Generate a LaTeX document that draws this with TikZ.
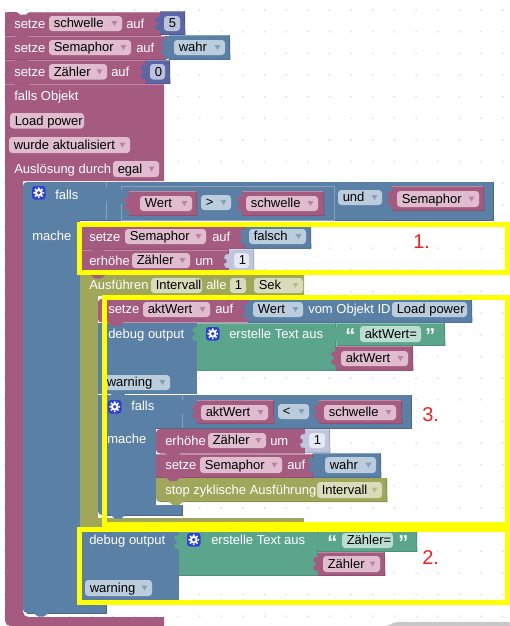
\documentclass[tikz,border=0pt]{standalone}
\usepackage{fontspec}
\setmainfont{Liberation Sans}
\definecolor{cp}{HTML}{A55B80}\definecolor{cb}{HTML}{5B80A5}\definecolor{cg}{HTML}{5BA58C}
\definecolor{co}{HTML}{A0A75B}\definecolor{ci}{HTML}{5B67A5}\definecolor{cl}{HTML}{BFC5DC}
\definecolor{fp}{HTML}{DFBDCE}\definecolor{fb}{HTML}{BBCCDD}\definecolor{fg}{HTML}{BBDDD1}
\definecolor{fo}{HTML}{D9DCBB}\definecolor{fi}{HTML}{BDC2DB}\definecolor{fl}{HTML}{E6E8F2}
\definecolor{gearblue}{HTML}{2C3FD8}\definecolor{griddot}{HTML}{DADADA}
\definecolor{hilite}{HTML}{FFFF00}\definecolor{lab}{HTML}{F02020}
\newcounter{nn}
\tikzset{
  txt/.style={anchor=base west,inner sep=0pt,font=\fontsize{9.75}{11}\selectfont},
  wtx/.style={txt,text=white},
  btx/.style={txt,text=black},
  mk/.style={draw=hilite,line width=3.75pt,miter limit=10},
  numlab/.style={anchor=base west,inner sep=0pt,text=lab,font=\fontsize{15}{17}\selectfont},
}
% block: x1 x2 y1 y2 colour
\newcommand\blk[5]{%
  \fill[#5] (#1,#3) rectangle (#2,#4);
  \draw[#5!72!white,line width=.5pt] (#1,#3+.4) -- (#2,#3+.4);
  \draw[#5!80!black,line width=.5pt] (#1,#4-.4) -- (#2,#4-.4) -- (#2-.4,#3);
}
% statement tab under a block
\newcommand\ntch[3]{\fill[#3] (#1,#2-.5) -- (#1+5,#2+3.5) -- (#1+11,#2+3.5) -- (#1+16,#2-.5) -- cycle;}
% value tab left of a block
\newcommand\vtab[3]{\fill[#3] (#1+1,#2) -- (#1-3.5,#2+.5) -- (#1-5,#2+4) -- (#1-2.5,#2+5.5) -- (#1-2.5,#2+8.5) -- (#1-5,#2+10) -- (#1-3.5,#2+13.5) -- (#1+1,#2+14) -- cycle;}
% white text: x baseline text
\newcommand\wt[3]{\stepcounter{nn}\node[wtx] (n\thenn) at (#1,#2) {#3};}
% field without arrow: x1 x2 y1 y2 letter text
\newcommand\fld[6]{\stepcounter{nn}%
  \fill[f#5,rounded corners=2.4pt] (#1,#3) rectangle (#2,#4);
  \node[btx] (n\thenn) at (#1+4.5,#4-3.2) {#6};}
% field with a drop-down arrow
\newcommand\fldd[6]{\fld{#1}{#2}{#3}{#4}{#5}{#6}%
  \fill[c#5!75!white] (#2-10.5,{(#3+#4)/2-2.5}) -- (#2-4.5,{(#3+#4)/2-2.5}) -- (#2-7.5,{(#3+#4)/2+2.5}) -- cycle;}
% gear button: x y (upper left)
\newcommand\gear[2]{%
  \fill[gearblue,rounded corners=2.2pt] (#1,#2) rectangle (#1+13.5,#2+13.5);
  \foreach \a in {0,45,...,315}{\fill[white] ({#1+6.75+4.6*cos(\a)},{#2+6.75+4.6*sin(\a)}) circle[radius=1.1];}
  \fill[white] (#1+6.75,#2+6.75) circle[radius=3.9];
  \fill[gearblue] (#1+6.75,#2+6.75) circle[radius=1.9];
}
\newcommand\lqm[2]{\stepcounter{nn}\node[wtx,font=\fontsize{15}{15}\bfseries\selectfont] (n\thenn) at (#1,#2) {“};}
\newcommand\rqm[2]{\stepcounter{nn}\node[wtx,font=\fontsize{15}{15}\bfseries\selectfont] (n\thenn) at (#1,#2) {”};}
\begin{document}
\begin{tikzpicture}[x=.75pt,y=-.75pt]
\useasboundingbox (0,0) rectangle (510,626);
\fill[white] (0,0) rectangle (510,626);
% workspace grid
\foreach \i in {0,...,23}{\foreach \j in {0,...,28}{
  \fill[griddot] ({4.8+21.65*\i},{10+21.65*\j}) circle[radius=.9];}}
\fill[black!22,rounded corners=6pt] (383,630) -- (391,622) -- (515,622) -- (515,630) -- cycle;

% ---------- top stack
\blk{5}{161}{12}{35.5}{cp}
\fill[cp,rounded corners=3pt] (5,20) -- (5,12) -- (30,12) -- (30,20) -- cycle;
\fill[white] (16,11) -- (20,14.5) -- (26,14.5) -- (30,11) -- cycle;
\blk{160}{185}{11}{35}{ci}
\vtab{160}{16.5}{ci}
\wt{14}{28}{setze}\fldd{49}{122}{16}{31}{p}{schwelle}\wt{126}{28}{auf}\fld{164}{180}{16}{31}{i}{5}
\blk{5}{166}{35.5}{60}{cp}\ntch{14}{35.5}{cp}
\blk{169}{230}{35}{59.5}{cb}\fill[cb] (165,36) rectangle (170,59);
\vtab{166}{41}{cb}
\wt{14}{52}{setze}\fldd{49}{131}{40}{55}{p}{Semaphor}\wt{136}{52}{auf}\fldd{174}{225}{40}{55}{b}{wahr}
\blk{5}{146}{60}{84.5}{cp}\ntch{14}{60}{cp}
\blk{145.5}{170}{60}{84}{ci}
\vtab{145.5}{65}{ci}
\wt{14}{76}{setze}\fldd{49}{107}{64}{79.5}{p}{Zähler}\wt{111}{76}{auf}\fld{150}{165}{64}{79.5}{i}{0}

% ---------- main event block
\fill[cp] (164,84.5) -- (5,84.5) [rounded corners=4pt] -- (5,626) [sharp corners] -- (164,626) -- (164,617) [rounded corners=4pt] -- (23,617) [sharp corners] -- (23,181) -- (164,181) -- cycle;
\draw[cp!72!white,line width=.5pt] (5,84.8) -- (164,84.8);
\ntch{14}{84.5}{cp}
\wt{14}{100}{falls Objekt}
\fld{10}{84}{113}{128.5}{p}{Load power}
\fldd{9}{130}{137}{153}{p}{wurde aktualisiert}
\wt{14}{173}{Auslösung durch}\fldd{113}{159}{161}{177}{p}{egal}

% ---------- outer if
\fill[cb] (493,182) [rounded corners=3pt] -- (23,182) -- (23,613) [sharp corners] -- (106,613) -- (106,600) -- (80,600) -- (80,220) -- (493,220) -- cycle;
\draw[cb!80!black,line width=.5pt] (493,182) -- (493,220) -- (80,220);
\draw[cb!80!black,line width=.5pt] (27,613) -- (106,613) -- (106,600);
\draw[cb!72!white,line width=.5pt] (106,182) -- (106,220);
\ntch{33}{613}{cb}
\gear{32}{186}
\wt{55}{199}{falls}\wt{32}{240}{mache}
\vtab{106}{187}{cb}
\draw[cb!72!white,line width=.5pt] (121,186) rectangle (334,220);
\vtab{121}{190}{cb}
\blk{129}{197}{191}{216}{cp}\vtab{129}{196.5}{cp}
\fldd{140}{192}{196}{211}{p}{Wert}
\fldd{201}{231}{195}{210}{b}{>}
\blk{242}{324}{191}{216}{cp}\vtab{242}{196.5}{cp}
\fldd{246}{318}{196}{211}{p}{schwelle}
\fldd{338}{382}{190}{205}{b}{und}
\blk{392}{484}{186}{211}{cp}\vtab{392}{191.5}{cp}
\fldd{397}{479}{191}{207}{p}{Semaphor}

% ---------- box 1 content
\blk{82}{245}{225}{249.5}{cp}
\blk{245}{311}{225}{248.5}{cb}\vtab{245}{230}{cb}
\wt{89}{241}{setze}\fldd{125}{206}{229}{244}{p}{Semaphor}\wt{212}{241}{auf}\fldd{249}{306}{229}{244}{b}{falsch}
\blk{82}{229}{249.5}{275}{cp}\ntch{90}{249.5}{cp}
\blk{229}{254}{249}{275}{cl}\vtab{229}{254}{cl}
\wt{89}{265}{erhöhe}\fldd{132}{190}{253}{268}{p}{Zähler}\wt{195}{265}{um}\fld{234}{249}{253}{268}{l}{1}

% ---------- schedule block
\fill[co] (80,275) -- (80,530) -- (304,530) -- (304,518) -- (98,518) -- (98,296) -- (304,296) -- (304,275) -- cycle;
\ntch{90}{275}{cp}
\wt{89}{289}{Ausführen}\fld{151}{202}{278}{293}{o}{Intervall}\wt{206}{289}{alle}\fld{230}{246}{278}{293}{o}{1}\fldd{254}{303}{278}{293}{o}{Sek}

% ---------- box 3 content
\fill[cp] (248,322.5) [rounded corners=2.5pt] -- (98,322.5) -- (98,299) [sharp corners] -- (248,299) -- cycle;
\blk{248}{472}{299}{322.5}{cb}\vtab{248}{304}{cb}
\wt{108}{313}{setze}\fldd{143}{210}{302}{317}{p}{aktWert}\wt{215}{313}{auf}
\fldd{253}{303}{302}{317}{b}{Wert}\wt{308}{313}{vom Objekt ID}\fld{392}{467}{302}{317}{b}{Load power}
% debug output
\fill[cb] (98,322.5) rectangle (197,394);
\ntch{108}{322.5}{cp}
\blk{197}{336}{322.5}{370.5}{cg}
\blk{336}{445}{322.5}{346}{cg}
\blk{336}{413}{346}{370.5}{cp}
\draw[cg!72!white,line width=.5pt] (336,322.5) -- (336,346);
\vtab{197}{327}{cg}\vtab{336}{327}{cg}\vtab{336}{351}{cp}
\wt{108}{338}{debug output}\gear{206}{327}\wt{229}{338}{erstelle Text aus}
\lqm{345}{342}\fld{360}{421}{326}{342}{g}{aktWert=}\rqm{425}{342}
\fldd{341}{408}{351}{366}{p}{aktWert}
\fldd{102}{170}{375}{390}{b}{warning}
% inner if
\fill[cb] (411,395) -- (98,395) [rounded corners=3pt] -- (98,515) [sharp corners] -- (182,515) -- (182,505) [rounded corners=3pt] -- (156,505) [sharp corners] -- (156,428) -- (411,428) -- cycle;
\draw[cb!80!black,line width=.5pt] (411,395) -- (411,428) -- (156,428);
\draw[cb!80!black,line width=.5pt] (102,515) -- (182,515) -- (182,505);
\draw[cb!72!white,line width=.5pt] (182,395) -- (182,428);
\ntch{110}{394}{cb}\ntch{110}{515}{cb}
\gear{108}{400}\wt{131}{410}{falls}\wt{107}{443}{mache}
\vtab{182}{400}{cb}
\blk{197}{274}{400}{424}{cp}\vtab{197}{405}{cp}
\fldd{201}{268}{405}{420}{p}{aktWert}
\fldd{278}{309}{404}{419}{b}{<}
\blk{319}{402}{400}{424}{cp}\vtab{319}{405}{cp}
\fldd{324}{396}{405}{420}{p}{schwelle}
% inner stack
\fill[cp] (305,453.5) [rounded corners=3pt] -- (156,453.5) -- (156,429) [sharp corners] -- (305,429) -- cycle;
\blk{305}{330}{429}{453}{cl}\vtab{305}{434}{cl}
\wt{165}{445}{erhöhe}\fldd{208}{266}{433}{448}{p}{Zähler}\wt{270}{445}{um}\fld{309}{325}{433}{448}{l}{1}
\blk{156}{313}{453.5}{478}{cp}\ntch{165}{453.5}{cp}
\blk{313}{381}{453}{477.5}{cb}\vtab{313}{458}{cb}
\wt{165}{469}{setze}\fldd{200}{282}{457}{473}{p}{Semaphor}\wt{287}{469}{auf}\fldd{325}{376}{457}{473}{b}{wahr}
\fill[co] (387,478) -- (156,478) [rounded corners=3pt] -- (156,502) [sharp corners] -- (387,502) -- cycle;
\draw[co!80!black,line width=.5pt] (160,501.6) -- (387,501.6) -- (386.6,478);
\ntch{165}{477.5}{cp}
\ntch{168}{501.5}{co}
\wt{165}{494}{stop zyklische Ausführung}\fldd{317}{382}{482}{498}{o}{Intervall}
\fill[white] (156,505) -- (156,502) -- (162,505) -- cycle;

% ---------- box 2 content
\fill[cb] (82,527) rectangle (179,600);
\blk{179}{318}{527}{576}{cg}
\blk{318}{417}{527}{552}{cg}
\blk{318}{385}{552}{576}{cp}
\vtab{179}{535}{cg}\vtab{318}{535}{cg}\vtab{318}{557}{cp}
\wt{89}{544}{debug output}\gear{187}{533}\wt{211}{544}{erstelle Text aus}
\lqm{327}{549}\fld{342}{393}{533}{548}{g}{Zähler=}\rqm{398}{549}
\fldd{323}{380}{556}{572}{p}{Zähler}
\fldd{85}{152}{580}{596}{b}{warning}

% ---------- highlight frames
\draw[mk] (104.5,297.5) rectangle (507.5,524.5);
\draw[mk] (79.5,224.5) rectangle (507.5,272.5);
\draw[mk] (79.5,529.5) rectangle (507.5,602.5);
\stepcounter{nn}\node[numlab] (n\thenn) at (413,248) {1.};
\stepcounter{nn}\node[numlab] (n\thenn) at (422,564) {2.};
\stepcounter{nn}\node[numlab] (n\thenn) at (422,421) {3.};
\end{tikzpicture}
\end{document}
